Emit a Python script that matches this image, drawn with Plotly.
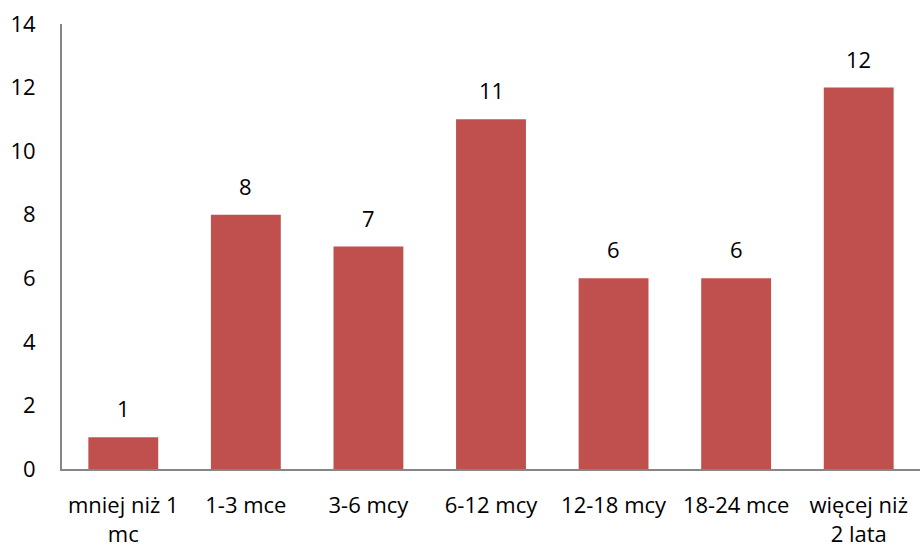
import plotly.graph_objects as go

categories = ["mniej niż 1<br>mc", "1-3 mce", "3-6 mcy", "6-12 mcy",
              "12-18 mcy", "18-24 mce", "więcej niż<br>2 lata"]
values = [1, 8, 7, 11, 6, 6, 12]
y_ticks = [0, 2, 4, 6, 8, 10, 12, 14]

font_family = "Open Sans, Liberation Sans, sans-serif"
bar_color = "#C0504D"

fig = go.Figure()
fig.add_trace(go.Bar(
    x=categories,
    y=values,
    marker=dict(color=bar_color, line=dict(width=0)),
    hoverinfo="skip",
))

# value labels above each bar
for cat, val in zip(categories, values):
    fig.add_annotation(
        x=cat, y=val, text=str(val), showarrow=False,
        yanchor="bottom", yshift=12,
        font=dict(family=font_family, size=22, color="#000000"),
    )

fig.update_layout(
    width=922, height=549,
    margin=dict(l=62, r=2, t=24, b=80),
    paper_bgcolor="white", plot_bgcolor="white",
    bargap=0.43,
    showlegend=False,
    font=dict(family=font_family, size=22, color="#000000"),
)
fig.update_xaxes(
    showline=True, linecolor="#868686", linewidth=2,
    ticks="outside", ticklen=16, tickcolor="rgba(0,0,0,0)",
    showgrid=False, tickangle=0,
)
fig.update_yaxes(
    range=[0, 14], tickvals=y_ticks,
    showline=True, linecolor="#868686", linewidth=2,
    ticks="outside", ticklen=20, tickcolor="rgba(0,0,0,0)",
    showgrid=False, zeroline=False,
)

fig.write_html("out.html")
